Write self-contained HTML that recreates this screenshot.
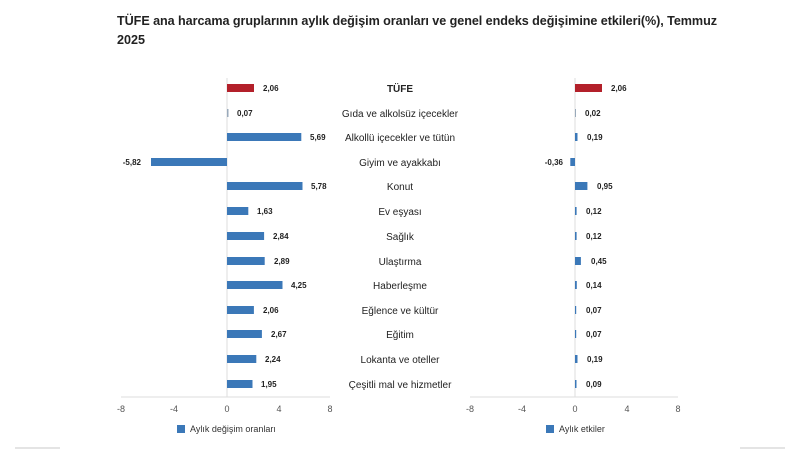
<!DOCTYPE html>
<html><head><meta charset="utf-8"><style>
body{margin:0;background:#fff;}
svg{display:block;font-family:"Liberation Sans",sans-serif;}
.v{font-size:8px;font-weight:bold;fill:#222;}
.c{font-size:10px;fill:#222;text-anchor:middle;}
.t{font-size:9px;fill:#555;text-anchor:middle;}
.lg{font-size:9px;fill:#333;}
</style></head><body>
<svg width="800" height="450" viewBox="0 0 800 450">
<text x="117" y="25" font-size="12.6" font-weight="bold" fill="#222" textLength="600">TÜFE ana harcama gruplarının aylık değişim oranları ve genel endeks değişimine etkileri(%), Temmuz</text>
<text x="117" y="44" font-size="12.6" font-weight="bold" fill="#222">2025</text>
<line x1="227" y1="78" x2="227" y2="397" stroke="#ddd"/>
<line x1="575" y1="78" x2="575" y2="397" stroke="#ddd"/>
<line x1="121" y1="397" x2="330" y2="397" stroke="#ddd"/>
<line x1="470" y1="397" x2="678" y2="397" stroke="#ddd"/>
<g fill="#3b78b8">
<rect x="227" y="84" width="27" height="8" fill="#b3202a"/>
<rect x="227" y="109" width="1.5" height="8" fill="#9ab"/>
<rect x="227" y="133" width="74.3" height="8"/>
<rect x="151" y="158" width="76" height="8"/>
<rect x="227" y="182" width="75.5" height="8"/>
<rect x="227" y="207" width="21.3" height="8"/>
<rect x="227" y="232" width="37.1" height="8"/>
<rect x="227" y="257" width="37.7" height="8"/>
<rect x="227" y="281" width="55.5" height="8"/>
<rect x="227" y="306" width="26.9" height="8"/>
<rect x="227" y="330" width="34.9" height="8"/>
<rect x="227" y="355" width="29.3" height="8"/>
<rect x="227" y="380" width="25.5" height="8"/>
<rect x="575" y="84" width="27" height="8" fill="#b3202a"/>
<rect x="575" y="109" width="1" height="8" fill="#9ab"/>
<rect x="575" y="133" width="2.5" height="8"/>
<rect x="570.3" y="158" width="4.7" height="8"/>
<rect x="575" y="182" width="12.4" height="8"/>
<rect x="575" y="207" width="1.6" height="8"/>
<rect x="575" y="232" width="1.6" height="8"/>
<rect x="575" y="257" width="5.9" height="8"/>
<rect x="575" y="281" width="1.8" height="8"/>
<rect x="575" y="306" width="1.2" height="8"/>
<rect x="575" y="330" width="1.2" height="8"/>
<rect x="575" y="355" width="2.5" height="8"/>
<rect x="575" y="380" width="1.5" height="8"/>
</g>
<g class="v">
<text x="263" y="91">2,06</text>
<text x="237" y="116">0,07</text>
<text x="310" y="140">5,69</text>
<text x="141" y="165" text-anchor="end">-5,82</text>
<text x="311" y="189">5,78</text>
<text x="257" y="214">1,63</text>
<text x="273" y="239">2,84</text>
<text x="274" y="264">2,89</text>
<text x="291" y="288">4,25</text>
<text x="263" y="313">2,06</text>
<text x="271" y="337">2,67</text>
<text x="265" y="362">2,24</text>
<text x="261" y="387">1,95</text>
<text x="611" y="91">2,06</text>
<text x="585" y="116">0,02</text>
<text x="587" y="140">0,19</text>
<text x="563" y="165" text-anchor="end">-0,36</text>
<text x="597" y="189">0,95</text>
<text x="586" y="214">0,12</text>
<text x="586" y="239">0,12</text>
<text x="591" y="264">0,45</text>
<text x="586" y="288">0,14</text>
<text x="586" y="313">0,07</text>
<text x="586" y="337">0,07</text>
<text x="587" y="362">0,19</text>
<text x="586" y="387">0,09</text>
</g>
<g class="c">
<text x="400" y="92" font-weight="bold">TÜFE</text>
<text x="400" y="117">Gıda ve alkolsüz içecekler</text>
<text x="400" y="141">Alkollü içecekler ve tütün</text>
<text x="400" y="166">Giyim ve ayakkabı</text>
<text x="400" y="190">Konut</text>
<text x="400" y="215">Ev eşyası</text>
<text x="400" y="240">Sağlık</text>
<text x="400" y="265">Ulaştırma</text>
<text x="400" y="289">Haberleşme</text>
<text x="400" y="314">Eğlence ve kültür</text>
<text x="400" y="338">Eğitim</text>
<text x="400" y="363">Lokanta ve oteller</text>
<text x="400" y="388">Çeşitli mal ve hizmetler</text>
</g>
<g class="t">
<text x="121" y="412">-8</text><text x="174" y="412">-4</text><text x="227" y="412">0</text><text x="279" y="412">4</text><text x="330" y="412">8</text>
<text x="470" y="412">-8</text><text x="522" y="412">-4</text><text x="575" y="412">0</text><text x="627" y="412">4</text><text x="678" y="412">8</text>
</g>
<rect x="177" y="425" width="8" height="8" fill="#3b78b8"/>
<text x="190" y="432" class="lg">Aylık değişim oranları</text>
<rect x="546" y="425" width="8" height="8" fill="#3b78b8"/>
<text x="559" y="432" class="lg">Aylık etkiler</text>
<line x1="15" y1="448" x2="60" y2="448" stroke="#e4e4e4" stroke-width="2"/>
<line x1="740" y1="448" x2="785" y2="448" stroke="#e4e4e4" stroke-width="2"/>
</svg>
</body></html>
